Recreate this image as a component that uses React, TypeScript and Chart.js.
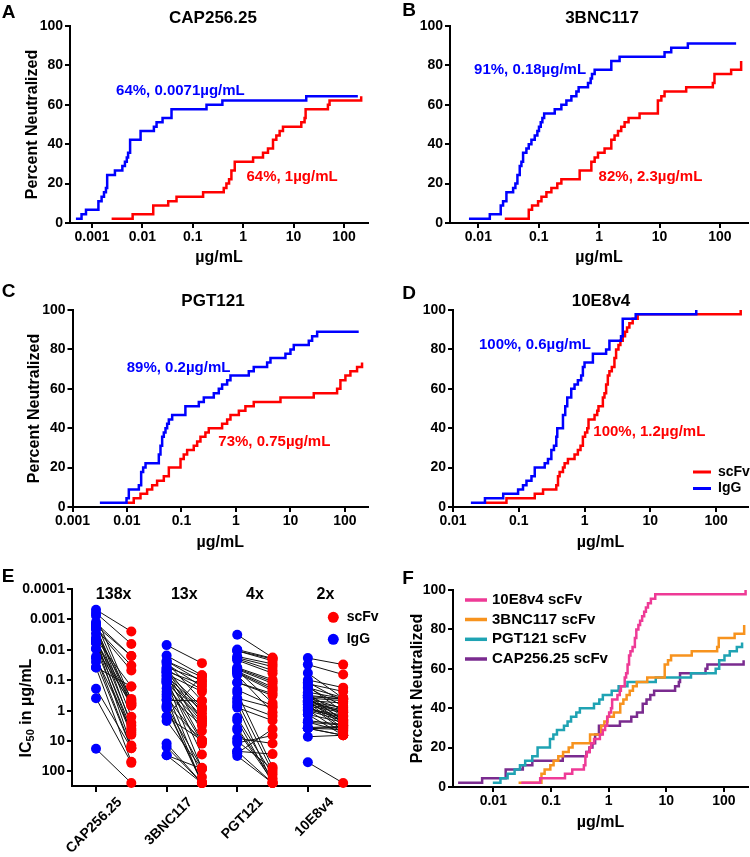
import React, { useEffect, useRef } from "react";
import { Chart, registerables } from "chart.js";

Chart.register(...registerables);

const FONT = "'Liberation Sans', Arial, Helvetica, sans-serif";
Chart.defaults.font.family = FONT;
Chart.defaults.font.weight = "bold";
Chart.defaults.color = "#000";

const RED = "#ff0000";
const BLUE = "#0000ff";
const PINK = "#ee3a96";
const ORANGE = "#f7931e";
const TEAL = "#1fa3b3";
const PURPLE = "#7a2b8f";

// ---------- Panel A: CAP256.25 ----------
const A_IGG_X = [0.00048, 0.00062, 0.00076, 0.00134, 0.00155, 0.00173, 0.00189, 0.002, 0.00285, 0.004, 0.0045, 0.0049, 0.0052, 0.0057, 0.0092, 0.0169, 0.0191, 0.0251, 0.0378, 0.187, 0.386, 17.8, 188];
const A_IGG_Y = [2.2, 4.4, 6.7, 11.1, 13.3, 15.6, 17.8, 24.4, 26.7, 28.9, 31.1, 33.3, 35.6, 42.2, 46.7, 48.9, 51.1, 53.3, 57.8, 60.0, 62.2, 64.4, 64.4];
const A_SCFV_X = [0.00245, 0.0064, 0.0164, 0.0325, 0.0475, 0.16, 0.411, 0.464, 0.524, 0.583, 0.679, 1.57, 2.47, 3.1, 3.9, 4.54, 5.28, 6.15, 14.2, 16.5, 17.3, 47.9, 51.6, 219];
const A_SCFV_Y = [2.2, 4.4, 8.9, 11.1, 13.3, 15.6, 17.8, 20.0, 22.2, 26.7, 31.1, 33.3, 35.6, 37.8, 42.2, 44.4, 46.7, 48.9, 51.1, 53.3, 57.8, 60.0, 62.2, 64.4];

// ---------- Panel B: 3BNC117 ----------
const B_IGG_X = [0.007, 0.0155, 0.0235, 0.0257, 0.0292, 0.0377, 0.0411, 0.0444, 0.0485, 0.0517, 0.0551, 0.0625, 0.0684, 0.0757, 0.0859, 0.095, 0.101, 0.108, 0.115, 0.123, 0.184, 0.237, 0.287, 0.347, 0.42, 0.458, 0.654, 0.724, 0.762, 0.843, 1.59, 2.18, 12.1, 15.6, 29.4, 185];
const B_IGG_Y = [2.2, 4.4, 8.9, 11.1, 15.6, 17.8, 20.0, 24.4, 28.9, 31.1, 35.6, 37.8, 40.0, 42.2, 44.4, 46.7, 48.9, 51.1, 53.3, 55.6, 57.8, 60.0, 62.2, 64.4, 66.7, 68.9, 71.1, 73.3, 75.6, 77.8, 82.2, 84.4, 86.7, 88.9, 91.1, 91.1];
const B_SCFV_X = [0.0274, 0.0684, 0.0776, 0.0975, 0.111, 0.134, 0.162, 0.203, 0.237, 0.476, 0.743, 0.843, 0.957, 1.23, 1.59, 1.8, 2.05, 2.32, 2.64, 3.07, 4.67, 9.38, 10.7, 12.1, 27.6, 76.2, 81.1, 153, 224];
const B_SCFV_Y = [2.2, 6.7, 8.9, 11.1, 13.3, 15.6, 17.8, 20.0, 22.2, 26.7, 31.1, 33.3, 35.6, 37.8, 42.2, 44.4, 46.7, 48.9, 51.1, 53.3, 55.6, 62.2, 64.4, 66.7, 68.9, 71.1, 75.6, 77.8, 82.2];

// ---------- Panel C: PGT121 ----------
const C_IGG_X = [0.00318, 0.0098, 0.0108, 0.0165, 0.0182, 0.0198, 0.0219, 0.0384, 0.0412, 0.0442, 0.0474, 0.0509, 0.0546, 0.0586, 0.0675, 0.118, 0.208, 0.257, 0.392, 0.484, 0.557, 0.689, 0.793, 1.72, 2.12, 3.73, 4.3, 8.09, 10.0, 11.5, 21.7, 25.0, 30.9, 179];
const C_IGG_Y = [2.2, 4.4, 8.9, 11.1, 17.8, 20.0, 22.2, 26.7, 31.1, 35.6, 37.8, 40.0, 42.2, 44.4, 46.7, 51.1, 53.3, 55.6, 57.8, 60.0, 62.2, 64.4, 66.7, 68.9, 71.1, 73.3, 75.6, 77.8, 80.0, 82.2, 84.4, 86.7, 88.9, 88.9];
const C_SCFV_X = [0.0098, 0.0133, 0.0177, 0.0234, 0.029, 0.0357, 0.0474, 0.0586, 0.096, 0.11, 0.127, 0.168, 0.194, 0.223, 0.275, 0.317, 0.557, 0.689, 0.793, 1.13, 1.49, 2.12, 6.56, 26.8, 71.8, 82.6, 102, 126, 167, 206];
const C_SCFV_Y = [2.2, 4.4, 6.7, 8.9, 11.1, 13.3, 15.6, 20.0, 24.4, 26.7, 28.9, 31.1, 33.3, 35.6, 37.8, 40.0, 42.2, 44.4, 46.7, 48.9, 51.1, 53.3, 55.6, 57.8, 60.0, 64.4, 66.7, 68.9, 71.1, 73.3];

// ---------- Panel D: 10E8v4 ----------
const D_IGG_X = [0.0187, 0.0306, 0.058, 0.0977, 0.116, 0.131, 0.156, 0.175, 0.248, 0.278, 0.313, 0.343, 0.372, 0.385, 0.47, 0.509, 0.546, 0.628, 0.705, 0.792, 0.889, 0.944, 1.0, 1.34, 2.13, 2.39, 3.59, 3.81, 6.0, 50];
const D_IGG_Y = [2.2, 4.4, 6.7, 8.9, 11.1, 13.3, 15.6, 20.0, 22.2, 24.4, 28.9, 31.1, 35.6, 40.0, 46.7, 51.1, 55.6, 60.0, 62.2, 64.4, 66.7, 71.1, 73.3, 77.8, 80.0, 84.4, 86.7, 95.6, 97.8, 100];
const D_SCFV_X = [0.0306, 0.065, 0.175, 0.234, 0.372, 0.395, 0.418, 0.47, 0.498, 0.559, 0.705, 0.792, 0.869, 0.944, 1.02, 1.1, 1.15, 1.42, 1.56, 1.63, 1.9, 2.01, 2.13, 2.26, 2.39, 2.6, 2.85, 3.02, 3.28, 3.51, 3.81, 4.13, 4.43, 4.81, 5.4, 6.43, 237];
const D_SCFV_Y = [2.2, 4.4, 6.7, 8.9, 11.1, 15.6, 17.8, 20.0, 22.2, 24.4, 26.7, 28.9, 31.1, 35.6, 37.8, 40.0, 44.4, 46.7, 48.9, 51.1, 55.6, 57.8, 62.2, 66.7, 68.9, 71.1, 75.6, 80.0, 82.2, 84.4, 86.7, 88.9, 91.1, 93.3, 95.6, 97.8, 100];

// ---------- Panel E: paired IC50 (µg/mL), same index = same virus ----------
const E_CAP_IGG = [0.00048, 0.00062, 0.00076, 0.0013, 0.0013, 0.0016, 0.0017, 0.0019, 0.002, 0.002, 0.002, 0.0029, 0.004, 0.0045, 0.0049, 0.0052, 0.0057, 0.0057, 0.0057, 0.0092, 0.0092, 0.017, 0.019, 0.025, 0.038, 0.038, 0.19, 0.39, 18];
const E_CAP_SCFV = [0.0025, 0.0064, 0.46, 0.016, 0.58, 0.016, 1.6, 0.033, 0.68, 3.1, 0.048, 0.41, 2.5, 0.16, 5.3, 0.52, 3.9, 14, 0.68, 6.2, 0.58, 16.5, 4.5, 17.3, 0.16, 48, 17.3, 52, 240];
const E_3BNC_IGG = [0.007, 0.0155, 0.0235, 0.0235, 0.0257, 0.0292, 0.0377, 0.0411, 0.0444, 0.0485, 0.0517, 0.0551, 0.0551, 0.0625, 0.0684, 0.0757, 0.0859, 0.095, 0.101, 0.108, 0.115, 0.123, 0.123, 0.184, 0.237, 0.287, 0.347, 0.42, 0.458, 0.654, 0.724, 0.762, 0.843, 1.59, 1.59, 2.18, 12.1, 15.6, 29.4, 29.4];
const E_3BNC_SCFV = [0.0274, 0.0684, 0.111, 0.0776, 0.476, 0.162, 0.0975, 1.23, 0.203, 2.05, 0.134, 0.743, 4.67, 0.237, 9.38, 0.843, 1.59, 27.6, 0.957, 2.32, 81, 1.8, 10.7, 2.64, 153, 3.07, 12.1, 240, 0.476, 9.38, 76, 224, 240, 0.0684, 9.38, 81, 240, 240, 81, 240];
const E_PGT_IGG = [0.0032, 0.0098, 0.0108, 0.0108, 0.0165, 0.0182, 0.0198, 0.0219, 0.0384, 0.0412, 0.0442, 0.0474, 0.0509, 0.0546, 0.0586, 0.0675, 0.118, 0.118, 0.208, 0.257, 0.392, 0.484, 0.557, 0.689, 0.793, 1.72, 2.12, 3.73, 4.3, 8.09, 10.0, 11.5, 21.7, 21.7, 25.0, 30.9];
const E_PGT_SCFV = [0.018, 0.019, 0.02, 0.023, 0.029, 0.0357, 0.0474, 0.0586, 0.096, 0.11, 0.127, 0.557, 0.168, 0.194, 0.223, 1.13, 0.275, 0.317, 0.689, 71.8, 0.793, 102, 1.49, 240, 2.12, 126, 240, 167, 206, 12, 82.6, 6.56, 26.8, 240, 4.0, 240];
const E_10E8_IGG = [0.0187, 0.0306, 0.058, 0.0977, 0.116, 0.131, 0.156, 0.175, 0.175, 0.248, 0.278, 0.313, 0.313, 0.343, 0.372, 0.372, 0.385, 0.385, 0.47, 0.47, 0.47, 0.509, 0.509, 0.546, 0.546, 0.628, 0.628, 0.705, 0.792, 0.889, 0.944, 0.944, 1.0, 1.34, 1.34, 2.13, 2.39, 2.39, 3.59, 3.81, 3.81, 3.81, 3.81, 7.2, 50];
const E_10E8_SCFV = [0.0306, 0.065, 0.395, 0.175, 0.498, 0.234, 1.1, 0.372, 0.705, 0.395, 1.56, 0.418, 2.13, 0.418, 0.869, 2.6, 0.47, 1.9, 0.559, 3.02, 1.15, 0.792, 2.26, 0.944, 3.81, 1.02, 4.43, 1.15, 2.01, 1.42, 5.4, 1.63, 2.13, 2.39, 6.43, 2.85, 3.02, 4.81, 3.28, 3.51, 6.43, 4.13, 6.43, 6.43, 240];

const E_CATEGORIES = ["CAP256.25", "3BNC117", "PGT121", "10E8v4"];
const E_FOLD = ["138x", "13x", "4x", "2x"];

// ---------- Tick values ----------
const Y_TICKS = [0, 20, 40, 60, 80, 100];
const X_TICKS_A = [0.001, 0.01, 0.1, 1, 10, 100];
const X_TICKS_B = [0.01, 0.1, 1, 10, 100];
const X_TICKS_C = [0.001, 0.01, 0.1, 1, 10, 100];
const X_TICKS_D = [0.01, 0.1, 1, 10, 100];
const X_TICKS_F = [0.01, 0.1, 1, 10, 100];
const E_Y_TICKS = [0.0001, 0.001, 0.01, 0.1, 1, 10, 100];

const pts = (xs: number[], ys: number[]) => xs.map((x, i) => ({ x, y: ys[i] }));

const bold = (s: number) => `bold ${s}px ${FONT}`;
const TICK_FONT = { family: FONT, size: 14, weight: "bold" as const };
const AXT_FONT = { family: FONT, size: 16, weight: "bold" as const };

// ---------- Custom drawing plugin (texts, legends, rotated title) ----------
const decor = {
  id: "decor",
  afterDraw(chart: any, _a: any, opts: any) {
    const ctx = chart.ctx as CanvasRenderingContext2D;
    const [ox, oy] = opts.origin || [0, 0];
    const xs = chart.scales[opts.xAxis || "x"];
    const ys = chart.scales.y;
    ctx.save();
    for (const it of opts.items || []) {
      const px = it.xv !== undefined ? xs.getPixelForValue(it.xv) : it.x - ox;
      const py = it.yv !== undefined ? ys.getPixelForValue(it.yv) : it.y - oy;
      ctx.font = it.font;
      ctx.fillStyle = it.color || "#000";
      ctx.textAlign = it.align || "center";
      ctx.textBaseline = "middle";
      ctx.fillText(it.text, px, py);
    }
    const lg = opts.legend;
    if (lg) {
      lg.entries.forEach((idx: number, k: number) => {
        const ds = chart.data.datasets[idx];
        const y = lg.y[k] - oy;
        if (lg.kind === "line") {
          ctx.strokeStyle = ds.borderColor;
          ctx.lineWidth = lg.width;
          ctx.beginPath();
          ctx.moveTo(lg.x0 - ox, y);
          ctx.lineTo(lg.x1 - ox, y);
          ctx.stroke();
        } else {
          ctx.fillStyle = ds.backgroundColor;
          ctx.beginPath();
          ctx.arc(lg.x0 - ox, y, lg.r, 0, Math.PI * 2);
          ctx.fill();
        }
        ctx.fillStyle = "#000";
        ctx.font = lg.font;
        ctx.textAlign = "left";
        ctx.textBaseline = "middle";
        ctx.fillText(ds.label, lg.tx - ox, y);
      });
    }
    const rt = opts.rotTitle;
    if (rt) {
      ctx.translate(rt.x - ox, rt.y - oy);
      ctx.rotate(-Math.PI / 2);
      let total = 0;
      for (const p of rt.parts) {
        ctx.font = p.font;
        total += ctx.measureText(p.t).width;
      }
      let cx = -total / 2;
      ctx.textAlign = "left";
      ctx.textBaseline = "middle";
      ctx.fillStyle = "#000";
      for (const p of rt.parts) {
        ctx.font = p.font;
        ctx.fillText(p.t, cx, p.dy || 0);
        cx += ctx.measureText(p.t).width;
      }
    }
    ctx.restore();
  },
};

type Box = { left: number; top: number; width: number; height: number };
type Area = { L: number; T: number; R: number; B: number };

const axisGrid = (len: number) => ({
  drawOnChartArea: false,
  drawTicks: true,
  tickLength: len,
  color: "#000",
  lineWidth: 2,
});
const axisBorder = { display: true, color: "#000", width: 2 };

function stepLine(label: string, xs: number[], ys: number[], color: string) {
  return {
    label,
    data: pts(xs, ys),
    borderColor: color,
    backgroundColor: color,
    borderWidth: 2.5,
    pointRadius: 0,
    stepped: true,
    fill: false,
    tension: 0,
  };
}

function cumulative(p: {
  box: Box;
  area: Area;
  xMin: number;
  xMax: number;
  xTicks: number[];
  datasets: any[];
  yTitleX?: number;
  xTitleY: number;
  decor: any;
}) {
  const { box, area } = p;
  const yW = area.L - box.left;
  const xH = box.top + box.height - area.B;
  return {
    type: "line",
    data: { datasets: p.datasets },
    options: {
      responsive: false,
      animation: false,
      events: [],
      layout: {
        padding: { left: 0, top: area.T - box.top, right: box.left + box.width - area.R, bottom: 0 },
      },
      plugins: {
        legend: { display: false },
        tooltip: { enabled: false },
        decor: { origin: [box.left, box.top], ...p.decor },
      },
      scales: {
        x: {
          type: "logarithmic",
          min: p.xMin,
          max: p.xMax,
          afterBuildTicks: (s: any) => {
            s.ticks = p.xTicks.map((v) => ({ value: v }));
          },
          afterFit: (s: any) => {
            s.height = xH;
          },
          ticks: {
            callback: (v: any) => String(v),
            autoSkip: false,
            maxRotation: 0,
            minRotation: 0,
            padding: 1,
            font: TICK_FONT,
            color: "#000",
          },
          grid: axisGrid(5),
          border: axisBorder,
          title: {
            display: true,
            text: "µg/mL",
            color: "#000",
            font: AXT_FONT,
            padding: { top: 0, bottom: box.top + box.height - p.xTitleY - 9.6 },
          },
        },
        y: {
          type: "linear",
          min: 0,
          max: 100,
          afterBuildTicks: (s: any) => {
            s.ticks = Y_TICKS.map((v) => ({ value: v }));
          },
          afterFit: (s: any) => {
            s.width = yW;
          },
          ticks: { padding: 2, font: TICK_FONT, color: "#000", autoSkip: false },
          grid: axisGrid(5),
          border: axisBorder,
          title: p.yTitleX
            ? {
                display: true,
                text: "Percent Neutralized",
                color: "#000",
                font: AXT_FONT,
                padding: { top: p.yTitleX - box.left - 9.6, bottom: 0 },
              }
            : { display: false },
        },
      },
    },
    plugins: [decor],
  };
}

const BOX_A: Box = { left: 0, top: 0, width: 375, height: 280 };
const BOX_B: Box = { left: 375, top: 0, width: 375, height: 280 };
const BOX_C: Box = { left: 0, top: 280, width: 375, height: 280 };
const BOX_D: Box = { left: 375, top: 280, width: 375, height: 280 };
const BOX_E: Box = { left: 0, top: 560, width: 392, height: 297 };
const BOX_F: Box = { left: 375, top: 560, width: 375, height: 297 };

const buildA = () =>
  cumulative({
    box: BOX_A,
    area: { L: 70, T: 26, R: 368, B: 223 },
    xMin: 0.000366,
    xMax: 299,
    xTicks: X_TICKS_A,
    datasets: [stepLine("IgG", A_IGG_X, A_IGG_Y, BLUE), stepLine("scFv", A_SCFV_X, A_SCFV_Y, RED)],
    yTitleX: 33,
    xTitleY: 258,
    decor: {
      items: [
        { text: "A", x: 8.5, y: 12.5, font: bold(19) },
        { text: "CAP256.25", x: 213, y: 18.5, font: bold(17) },
        { text: "64%, 0.0071µg/mL", xv: 0.003, yv: 67.3, font: bold(15), color: BLUE, align: "left" },
        { text: "64%, 1µg/mL", xv: 1.16, yv: 23.5, font: bold(15), color: RED, align: "left" },
      ],
    },
  });

const buildB = () =>
  cumulative({
    box: BOX_B,
    area: { L: 450, T: 26, R: 748, B: 223 },
    xMin: 0.0034,
    xMax: 291,
    xTicks: X_TICKS_B,
    datasets: [stepLine("IgG", B_IGG_X, B_IGG_Y, BLUE), stepLine("scFv", B_SCFV_X, B_SCFV_Y, RED)],
    xTitleY: 258,
    decor: {
      items: [
        { text: "B", x: 409, y: 11, font: bold(19) },
        { text: "3BNC117", x: 602, y: 18.5, font: bold(17) },
        { text: "91%, 0.18µg/mL", xv: 0.0085, yv: 77.7, font: bold(15), color: BLUE, align: "left" },
        { text: "82%, 2.3µg/mL", xv: 0.98, yv: 23.5, font: bold(15), color: RED, align: "left" },
      ],
    },
  });

const buildC = () =>
  cumulative({
    box: BOX_C,
    area: { L: 72.5, T: 310, R: 368, B: 507 },
    xMin: 0.001,
    xMax: 265,
    xTicks: X_TICKS_C,
    datasets: [stepLine("IgG", C_IGG_X, C_IGG_Y, BLUE), stepLine("scFv", C_SCFV_X, C_SCFV_Y, RED)],
    yTitleX: 35,
    xTitleY: 543,
    decor: {
      items: [
        { text: "C", x: 8.5, y: 291.5, font: bold(19) },
        { text: "PGT121", x: 213, y: 301.5, font: bold(17) },
        { text: "89%, 0.2µg/mL", xv: 0.0099, yv: 70.4, font: bold(15), color: BLUE, align: "left" },
        { text: "73%, 0.75µg/mL", xv: 0.475, yv: 33.1, font: bold(15), color: RED, align: "left" },
      ],
    },
  });

const buildD = () =>
  cumulative({
    box: BOX_D,
    area: { L: 453, T: 310, R: 748, B: 507 },
    xMin: 0.01,
    xMax: 306,
    xTicks: X_TICKS_D,
    datasets: [stepLine("IgG", D_IGG_X, D_IGG_Y, BLUE), stepLine("scFv", D_SCFV_X, D_SCFV_Y, RED)],
    xTitleY: 543,
    decor: {
      items: [
        { text: "D", x: 409, y: 294, font: bold(19) },
        { text: "10E8v4", x: 601, y: 301.5, font: bold(17) },
        { text: "100%, 0.6µg/mL", xv: 0.0248, yv: 82.2, font: bold(15), color: BLUE, align: "left" },
        { text: "100%, 1.2µg/mL", xv: 1.36, yv: 38.2, font: bold(15), color: RED, align: "left" },
      ],
      legend: { kind: "line", entries: [1, 0], x0: 693, x1: 711, tx: 718, y: [472, 488.5], width: 3, font: bold(14) },
    },
  });

const buildF = () =>
  cumulative({
    box: BOX_F,
    area: { L: 453, T: 590, R: 748, B: 787 },
    xMin: 0.002,
    xMax: 261,
    xTicks: X_TICKS_F,
    datasets: [
      stepLine("10E8v4 scFv", D_SCFV_X, D_SCFV_Y, PINK),
      stepLine("3BNC117 scFv", B_SCFV_X, B_SCFV_Y, ORANGE),
      stepLine("PGT121 scFv", C_SCFV_X, C_SCFV_Y, TEAL),
      stepLine("CAP256.25 scFv", A_SCFV_X, A_SCFV_Y, PURPLE),
    ],
    yTitleX: 418,
    xTitleY: 823,
    decor: {
      items: [{ text: "F", x: 408, y: 578.5, font: bold(19) }],
      legend: { kind: "line", entries: [0, 1, 2, 3], x0: 465, x1: 487, tx: 492, y: [600, 619.5, 639.3, 659], width: 3.5, font: bold(15) },
    },
  });

const buildE = () => {
  const box = BOX_E;
  const area: Area = { L: 72, T: 589, R: 370, B: 786 };
  const groups = [
    { igg: E_CAP_IGG, scfv: E_CAP_SCFV },
    { igg: E_3BNC_IGG, scfv: E_3BNC_SCFV },
    { igg: E_PGT_IGG, scfv: E_PGT_SCFV },
    { igg: E_10E8_IGG, scfv: E_10E8_SCFV },
  ];
  const links: any[] = [];
  groups.forEach((g, k) =>
    g.igg.forEach((v, i) => {
      links.push({ x: 2 * k, y: v }, { x: 2 * k + 1, y: g.scfv[i] }, { x: 2 * k + 0.5, y: null });
    })
  );
  const red = groups.flatMap((g, k) => g.scfv.map((v) => ({ x: 2 * k + 1, y: v })));
  const blue = groups.flatMap((g, k) => g.igg.map((v) => ({ x: 2 * k, y: v })));
  const xMin = -0.68;
  const xMax = 7.76;
  const tickH = 7;
  const labelPos = [0.67, 2.67, 4.67, 6.67];
  return {
    type: "scatter",
    data: {
      datasets: [
        { label: "scFv", data: red, backgroundColor: RED, borderColor: RED, borderWidth: 0, pointRadius: 5, order: 1, clip: false },
        { label: "IgG", data: blue, backgroundColor: BLUE, borderColor: BLUE, borderWidth: 0, pointRadius: 5, order: 2, clip: false },
        { label: "pairs", data: links, showLine: true, borderColor: "#111", borderWidth: 1, pointRadius: 0, spanGaps: false, order: 3 },
      ],
    },
    options: {
      responsive: false,
      animation: false,
      events: [],
      layout: { padding: { left: 0, top: area.T - box.top, right: box.left + box.width - area.R, bottom: 0 } },
      plugins: {
        legend: { display: false },
        tooltip: { enabled: false },
        decor: {
          origin: [box.left, box.top],
          items: [
            { text: "E", x: 8, y: 576.5, font: bold(19) },
            ...E_FOLD.map((t, k) => ({ text: t, xv: 2 * k + 0.5, y: 595, font: bold(16) })),
          ],
          legend: { kind: "dot", entries: [0, 1], x0: 333.3, r: 5.5, tx: 346.7, y: [617.3, 639.3], font: bold(14) },
          rotTitle: {
            x: 27,
            y: 708,
            parts: [
              { t: "IC", font: bold(16) },
              { t: "50", font: bold(11), dy: 4 },
              { t: " in µg/mL", font: bold(16) },
            ],
          },
        },
      },
      scales: {
        x: {
          type: "linear",
          position: "bottom",
          weight: 0,
          min: xMin,
          max: xMax,
          afterBuildTicks: (s: any) => {
            s.ticks = [0, 2, 4, 6].map((v) => ({ value: v }));
          },
          afterFit: (s: any) => {
            s.height = tickH;
          },
          ticks: { display: false },
          grid: axisGrid(6),
          border: axisBorder,
        },
        x2: {
          type: "linear",
          position: "bottom",
          weight: 1,
          min: xMin,
          max: xMax,
          afterBuildTicks: (s: any) => {
            s.ticks = labelPos.map((v) => ({ value: v }));
          },
          afterFit: (s: any) => {
            s.height = box.top + box.height - area.B - tickH;
          },
          ticks: {
            callback: (_v: any, i: number) => E_CATEGORIES[i],
            autoSkip: false,
            minRotation: 45,
            maxRotation: 45,
            padding: 1,
            font: TICK_FONT,
            color: "#000",
          },
          grid: { display: false, drawTicks: false, drawOnChartArea: false },
          border: { display: false },
        },
        y: {
          type: "logarithmic",
          reverse: true,
          min: 0.0001,
          max: 300,
          afterBuildTicks: (s: any) => {
            s.ticks = E_Y_TICKS.map((v) => ({ value: v }));
          },
          afterFit: (s: any) => {
            s.width = area.L - box.left;
          },
          ticks: { callback: (v: any) => String(v), padding: 2, font: TICK_FONT, color: "#000", autoSkip: false },
          grid: axisGrid(5),
          border: axisBorder,
          title: { display: false },
        },
      },
    },
    plugins: [decor],
  };
};

function Panel({ box, build }: { box: Box; build: () => any }) {
  const ref = useRef<HTMLCanvasElement | null>(null);
  useEffect(() => {
    const chart = new Chart(ref.current as HTMLCanvasElement, build());
    return () => chart.destroy();
  }, []);
  return (
    <canvas
      ref={ref}
      width={box.width}
      height={box.height}
      style={{ position: "absolute", left: box.left, top: box.top, width: box.width, height: box.height, display: "block" }}
    />
  );
}

export default function App() {
  return (
    <div style={{ position: "absolute", left: 0, top: 0, width: 750, height: 857, background: "#fff", overflow: "hidden" }}>
      <Panel box={BOX_A} build={buildA} />
      <Panel box={BOX_B} build={buildB} />
      <Panel box={BOX_C} build={buildC} />
      <Panel box={BOX_D} build={buildD} />
      <Panel box={BOX_E} build={buildE} />
      <Panel box={BOX_F} build={buildF} />
    </div>
  );
}
